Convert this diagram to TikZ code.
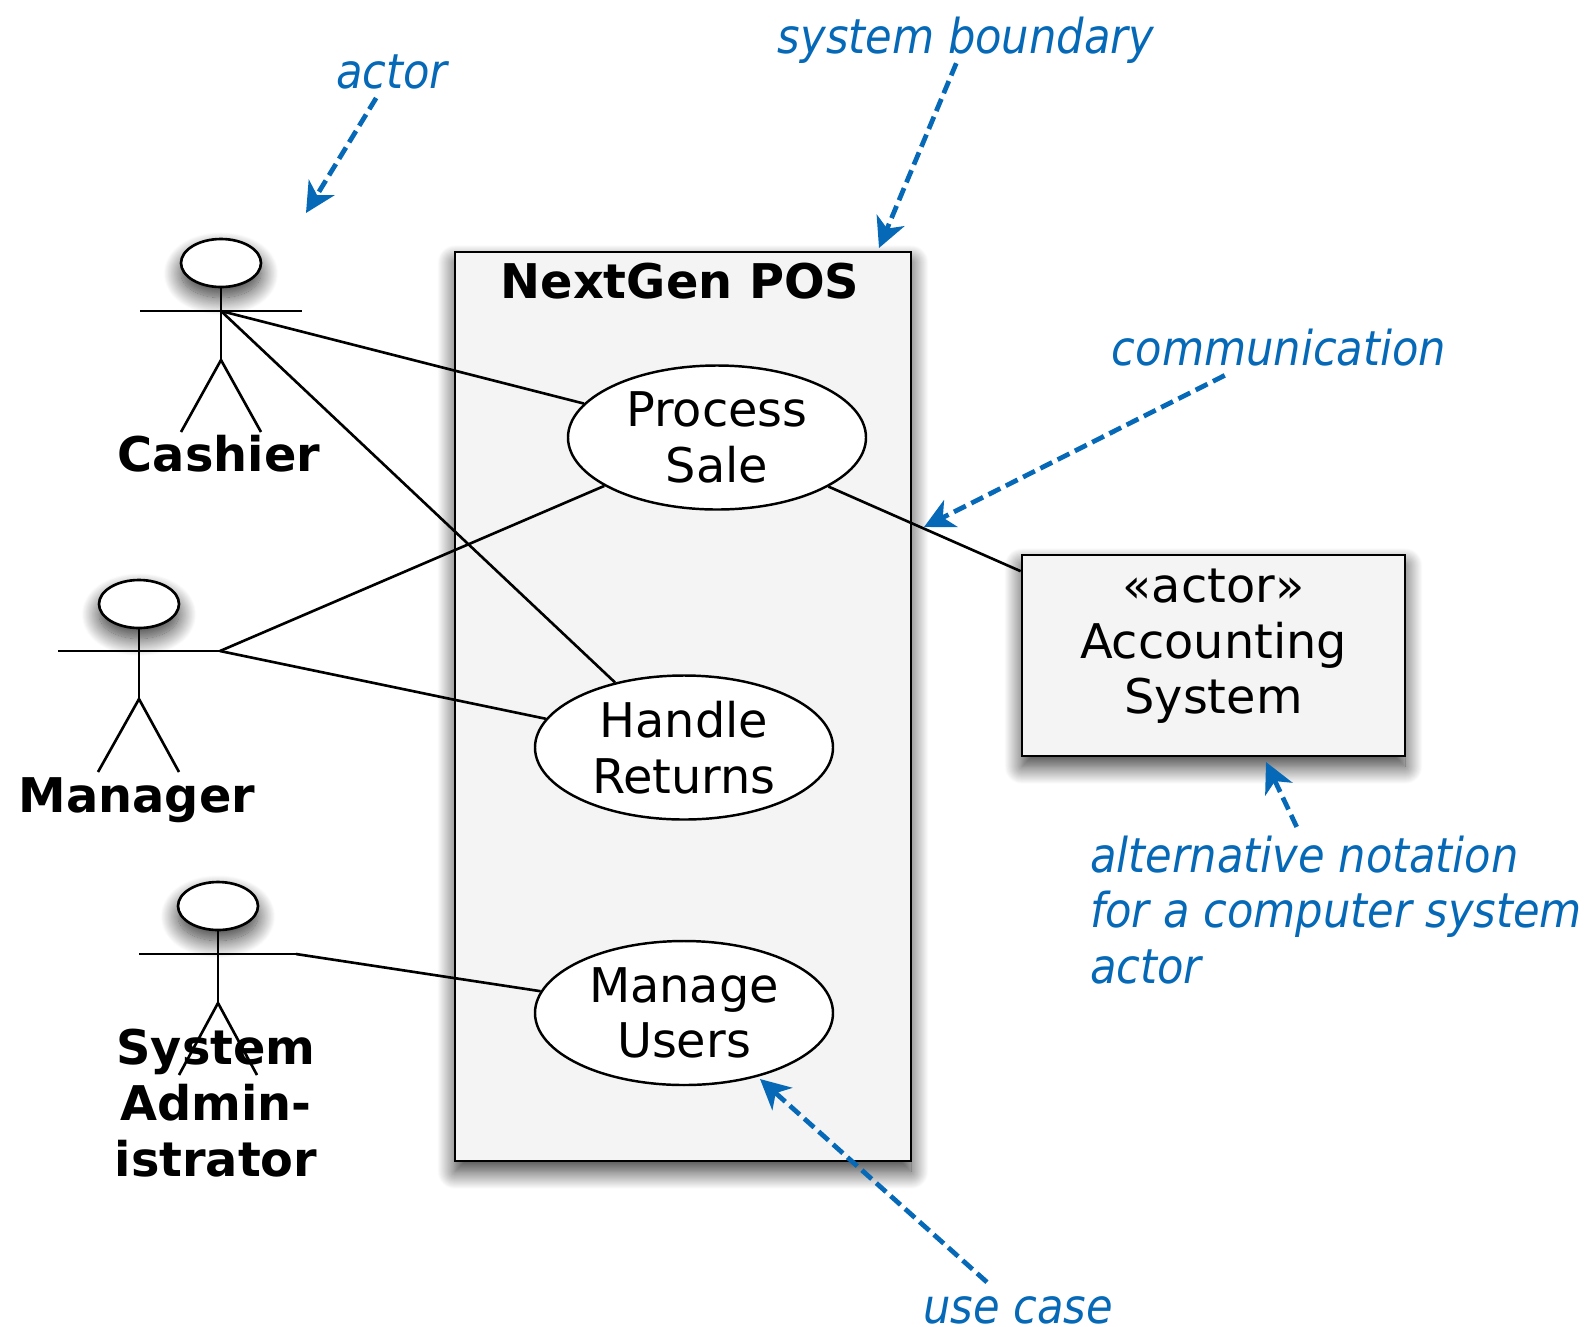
\documentclass[tikz,border=0pt]{standalone}
\usepackage{fontspec}
\setmainfont{DejaVu Sans}
\newfontfamily\notefont{DejaVu Sans Condensed Oblique}
\usetikzlibrary{shapes.geometric,arrows.meta,shadows.blur}
\definecolor{noteblue}{HTML}{0569B7}
\definecolor{boxgray}{HTML}{F4F4F4}
\tikzset{
  soft/.style={blur shadow={shadow xshift=0pt,shadow yshift=-6pt,shadow blur radius=10pt,shadow blur steps=24,shadow opacity=80}},
  boxpart/.style={draw,line width=1.5pt,fill=boxgray,soft,inner sep=0pt},
  headpart/.style={draw,ellipse,line width=1.5pt,fill=white,soft,inner sep=0pt,minimum width=1.6cm,minimum height=0.96cm},
  usecase/.style={draw,ellipse,line width=1.4pt,fill=white,inner sep=0pt,minimum width=5.96cm,minimum height=2.88cm,align=center},
  stick/.style={line width=1.5pt},
  link/.style={line width=1.5pt},
  note/.style={text=noteblue,font=\fontsize{27.35}{31.7}\selectfont\notefont,align=left,inner sep=0pt,outer sep=5pt},
  notearrow/.style={noteblue,line width=2.7pt,dash pattern=on 7.5pt off 3.5pt,-{Stealth[length=17pt,width=17pt,inset=5pt]}},
  actorname/.style={font=\fontsize{27.2}{31.7}\selectfont\bfseries,align=center,inner sep=0pt}
}
\begin{document}
\begin{tikzpicture}[x=0.2mm,y=-0.2mm,font=\fontsize{27.2}{31.7}\selectfont]
  \useasboundingbox (0,0) rectangle (1588,1326);

  % Sistema e caixa do ator externo
  \node[boxpart,minimum width=9.12cm,minimum height=18.18cm] (pos) at (683,706.5) {};
  \node[actorname] (postitle) at (680,281) {NextGen POS};
  \node[boxpart,minimum width=7.66cm,minimum height=4.02cm,align=center,text height=3.17cm,text depth=0.84cm] (acc) at (1213.5,655.5) {«actor»\\Accounting\\System};

  % Casos de uso
  \node[usecase] (u1) at (717,437.5) {Process\\Sale};
  \node[usecase] (u2) at (684,747.5) {Handle\\Returns};
  \node[usecase] (u3) at (684,1013) {Manage\\Users};

  % Cashier
  \node[headpart] (head1) at (221,263) {};
  \coordinate (arm1l) at (140,311);
  \coordinate (arm1r) at (302,311);
  \coordinate (neck1) at (221,311);
  \coordinate (hip1) at (221,360);
  \coordinate (leg1l) at (181,432);
  \coordinate (leg1r) at (261,432);
  \draw[stick] (head1) -- (hip1);
  \draw[stick] (arm1l) -- (arm1r);
  \draw[stick] (leg1l) -- (hip1) -- (leg1r);
  \node[actorname] (lab1) at (219,454) {Cashier};

  % Manager
  \node[headpart] (head2) at (139,604) {};
  \coordinate (arm2l) at (58,651);
  \coordinate (arm2r) at (220,651);
  \coordinate (hip2) at (139,699);
  \coordinate (leg2l) at (98,772);
  \coordinate (leg2r) at (179,772);
  \draw[stick] (head2) -- (hip2);
  \draw[stick] (arm2l) -- (arm2r);
  \draw[stick] (leg2l) -- (hip2) -- (leg2r);
  \node[actorname] (lab2) at (137,800) {Manager};

  % System Administrator
  \node[headpart] (head3) at (218,906) {};
  \coordinate (arm3l) at (139,954);
  \coordinate (arm3r) at (296,954);
  \coordinate (hip3) at (218,1003);
  \coordinate (leg3l) at (179,1075);
  \coordinate (leg3r) at (257,1075);
  \node[actorname] (lab3) at (216,1103) {System\\Admin-\\istrator};
  \draw[stick] (head3) -- (hip3);
  \draw[stick] (arm3l) -- (arm3r);
  \draw[stick] (leg3l) -- (hip3) -- (leg3r);

  % Comunicacao
  \draw[link] (neck1) -- (u1);
  \draw[link] (neck1) -- (u2);
  \draw[link] (arm2r) -- (u1);
  \draw[link] (arm2r) -- (u2);
  \draw[link] (arm3r) -- (u3);
  \draw[link] (u1) -- (acc);

  % Anotacoes
  \node[note] (note1) at (392,72) {actor};
  \node[note,outer sep=0pt] (note2) at (966,40) {system boundary};
  \node[note] (note3) at (1279,348) {communication};
  \node[note] (note4) at (1336,910) {alternative notation\\for a computer system\\actor};
  \node[note,outer sep=8pt] (note5) at (1018,1310) {use case};

  \coordinate (tip1) at (306,213);
  \coordinate (tip2) at (879,248);
  \coordinate (tip3) at (924,527);
  \coordinate (tip4) at (1266,762);
  \coordinate (tip5) at (760,1079);
  \draw[notearrow] (note1) -- (tip1);
  \draw[notearrow] (note2) -- (tip2);
  \draw[notearrow] (note3) -- (tip3);
  \draw[notearrow] (note4) -- (tip4);
  \draw[notearrow] (note5) -- (tip5);
\end{tikzpicture}
\end{document}
